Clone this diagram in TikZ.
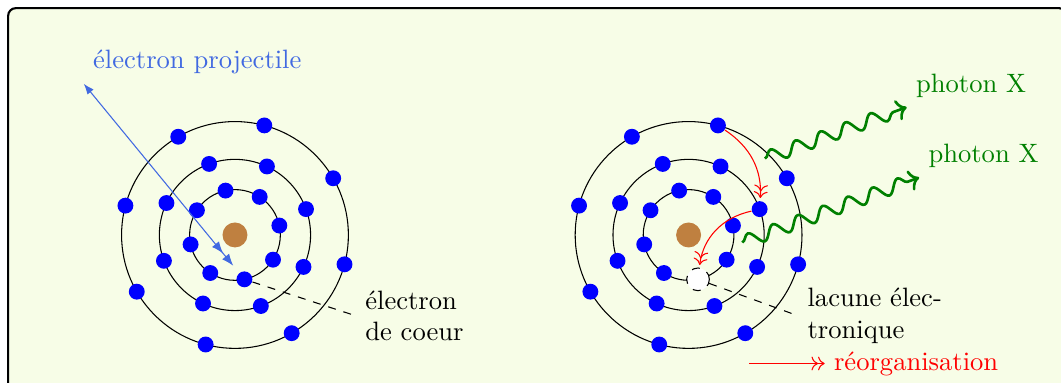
\documentclass[tikz,border=0pt]{standalone}
\usepackage{fontspec}
\usetikzlibrary{arrows.meta,decorations.pathmorphing}

\definecolor{fond}{RGB}{247,253,231}
\definecolor{bleuproj}{RGB}{65,105,225}
\definecolor{vertphot}{RGB}{0,128,0}
\definecolor{brunnoyau}{RGB}{191,128,64}

\begin{document}
\begin{tikzpicture}[
  electron/.style={circle, fill=blue, inner sep=0pt, minimum size=2.1mm},
  lacune/.style={circle, draw, dashed, fill=white, inner sep=0pt, minimum size=3mm},
  noyau/.style={circle, fill=brunnoyau, inner sep=0pt, minimum size=3.3mm},
  photon/.style={->, line width=1pt, vertphot, decorate, decoration={snake, post length=1.5mm}},
  reorg/.style={->>, red}
  ]
  \useasboundingbox (-3.108,-1.958) rectangle (10.926,3.108);
  % Cadre
  \draw[thick, fill=fond, rounded corners=1mm] (-3,-2.06) rectangle (11,3);
  % Couches, noyaux et electrons des deux atomes
  \foreach \x/\a in {0/L,6/R} {
    \begin{scope}[shift={(\x,0)}]
      \draw (0,0) circle (0.6) (0,0) circle (1) (0,0) circle (1.5);
      \node[noyau] (\a-noyau) at (0,0) {};
      \foreach \k in {0,...,7} {
        \node[electron] (\a2-\k) at (20+45*\k:1) {};
        \node[electron] (\a3-\k) at (30+45*\k:1.5) {};
      }
    \end{scope}
  }
  % Couche interne : huit electrons a gauche, une lacune a droite
  \foreach \k in {0,...,7}
    \node[electron] (L1-\k) at (12+45*\k:0.6) {};
  \begin{scope}[shift={(6,0)}]
    \foreach \k in {0,...,5,7}
      \node[electron] (R1-\k) at (12+45*\k:0.6) {};
    \node[lacune] (R1-6) at (282:0.6) {};
  \end{scope}

  % Electron projectile
  \coordinate (proj) at (-2,2);
  \node[above right, text=bleuproj] (projlab) at (proj) {électron projectile};
  \draw[bleuproj, {Latex[length=4pt]}-{Latex[length=4.5pt,sep=1.5pt]Latex[length=4.5pt]}, shorten >=1.2mm] (proj) -- (L1-6);

  % Legendes
  \node[right, align=left] (coeur) at (1.6,-1.07) {électron\\de coeur};
  \node[right, align=left] (trou) at (7.45,-1.07) {lacune élec-\\tronique};
  \draw[dashed] (L1-6) -- (coeur.west);
  \draw[dashed] (R1-6) -- (trou.west);

  % Reorganisation
  \draw[reorg, shorten >=1pt] (R3-1) to[bend left=30] (R2-0);
  \draw[reorg, shorten >=1pt] (R2-0) to[bend right=35] (R1-6);
  \coordinate (leg) at (6.8,-1.7);
  \node[right, text=red] (reorglab) at (7.8,-1.7) {réorganisation};
  \draw[reorg] (leg) -- (reorglab.west);

  % Photons X
  \coordinate (ph1a) at (7.01,1.01);
  \coordinate (ph1b) at (8.885,1.69);
  \coordinate (ph2a) at (6.71,-0.1);
  \coordinate (ph2b) at (9.05,0.76);
  \draw[photon] (ph1a) -- (ph1b);
  \draw[photon] (ph2a) -- (ph2b);
  \node[above right, text=vertphot] (ph1lab) at (ph1b) {photon X};
  \node[above right, text=vertphot] (ph2lab) at (ph2b) {photon X};
\end{tikzpicture}
\end{document}
